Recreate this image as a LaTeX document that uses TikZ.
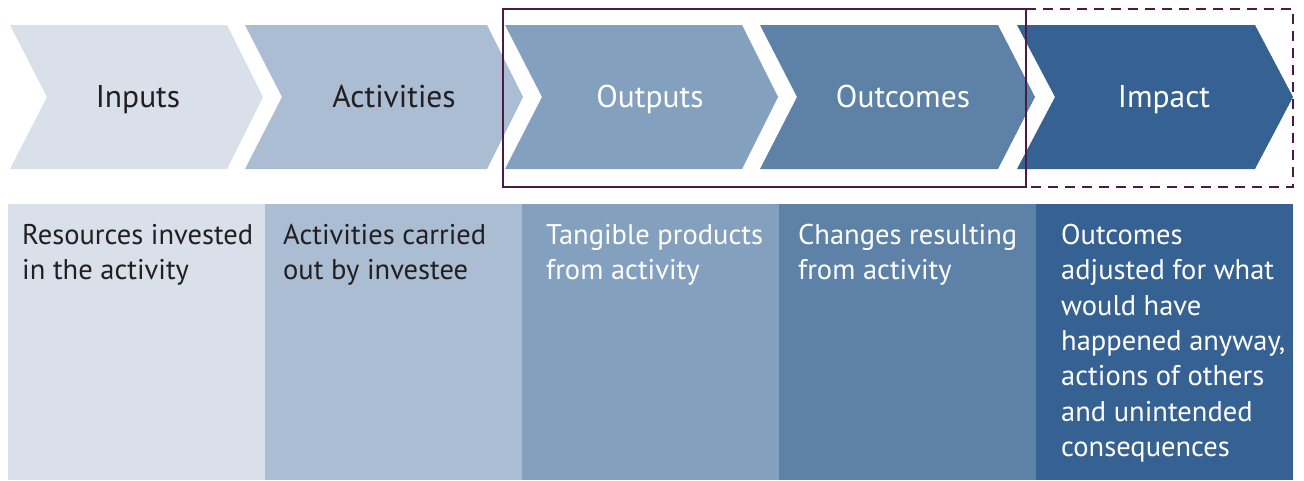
\documentclass[tikz,border=0pt]{standalone}
\usepackage{fontspec}
\setmainfont{PT Sans}
\usetikzlibrary{positioning}
\definecolor{inputsblue}{HTML}{D9E0EA}
\definecolor{activblue}{HTML}{ABBDD3}
\definecolor{outputsblue}{HTML}{84A0BF}
\definecolor{outcomesblue}{HTML}{5E81A8}
\definecolor{impactblue}{HTML}{366193}
\definecolor{darktext}{HTML}{231F20}
\definecolor{framemaroon}{HTML}{4B1A45}

\begin{document}
\begin{tikzpicture}[x=1pt,y=-1pt]
    \tikzstyle{every node}+=[inner sep=0pt]
    \tikzset{
      head/.style={font=\fontsize{31.5}{36}\selectfont, anchor=base},
      body/.style={font=\fontsize{28.5}{35.3}\selectfont, align=left, anchor=north west},
      frame/.style={draw=framemaroon, line width=2pt}
    }
    \useasboundingbox (0,0) rectangle (1304,480);
    % columns
    \fill [inputsblue] (8,204) rectangle (265,480);
    \fill [activblue] (265,204) rectangle (522,480);
    \fill [outputsblue] (522,204) rectangle (779,480);
    \fill [outcomesblue] (779,204) rectangle (1036,480);
    \fill [impactblue] (1036,204) rectangle (1293,480);
    % chevrons
    \fill [inputsblue] (10,25) -- (227,25) -- (263,97) -- (227,169) -- (10,169) -- (47,97) -- cycle;
    \fill [activblue] (245,25) -- (487,25) -- (523,97) -- (487,169) -- (245,169) -- (282,97) -- cycle;
    \fill [outputsblue] (505,25) -- (742,25) -- (778,97) -- (742,169) -- (505,169) -- (542,97) -- cycle;
    \fill [outcomesblue] (760,25) -- (998,25) -- (1035,97) -- (998,169) -- (760,169) -- (797,97) -- cycle;
    \fill [impactblue] (1017,25) -- (1255,25) -- (1293,97) -- (1255,169) -- (1017,169) -- (1055,97) -- cycle;
    % chevron labels
    \node [head, text=darktext] (inputs) at (138,107) {Inputs};
    \node [head, text=darktext] (activities) at (394,107) {Activities};
    \node [head, text=white] (outputs) at (650,107) {Outputs};
    \node [head, text=white] (outcomes) at (903,107) {Outcomes};
    \node [head, text=white] (impact) at (1164,107) {Impact};
    % descriptions
    \node [body, text=darktext] (inputsdesc) at (22,224) {Resources invested\\in the activity};
    \node [body, text=darktext] (activdesc) at (283,224) {Activities carried\\out by investee};
    \node [body, text=white] (outputsdesc) at (546,224) {Tangible products\\from activity};
    \node [body, text=white] (outcomesdesc) at (798,224) {Changes resulting\\from activity};
    \node [body, text=white] (impactdesc) at (1061,224) {Outcomes\\adjusted for what\\would have\\happened anyway,\\actions of others\\and unintended\\consequences};
    % frames
    \draw [frame] (503,9) rectangle (1026,187);
    \draw [frame, dash pattern=on 10pt off 7pt] (1026,9) -- (1293,9) -- (1293,187) -- (1026,187);
\end{tikzpicture}
\end{document}
